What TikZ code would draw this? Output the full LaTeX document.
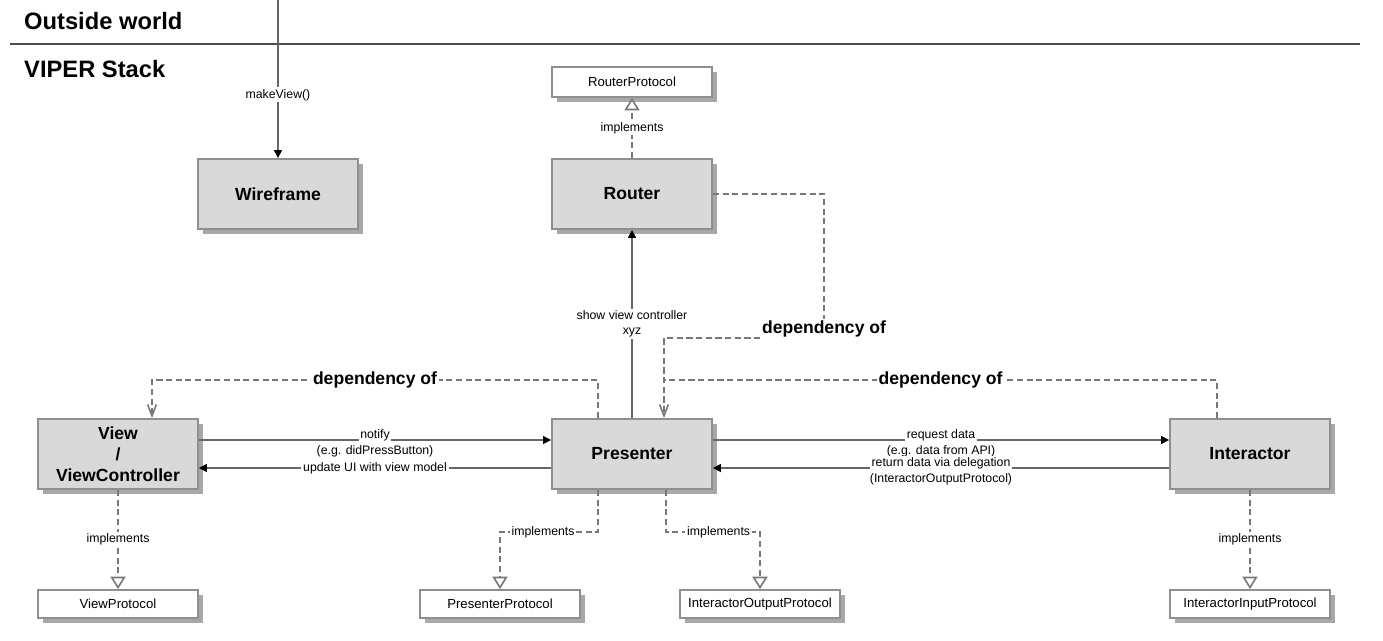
\documentclass[tikz,border=0pt]{standalone}
\usepackage{fontspec}
\setmainfont{Liberation Sans}
\usetikzlibrary{arrows.meta, positioning, calc, shadows}
\definecolor{boxfill}{HTML}{D9D9D9}
\definecolor{boxline}{HTML}{8F8F8F}
\definecolor{shade}{HTML}{A8A8A8}
\definecolor{wire}{HTML}{666666}
\definecolor{dashc}{HTML}{777777}
\tikzset{
    module/.style={draw=boxline, line width=1.1pt, fill=boxfill, minimum width=3.2cm, minimum height=1.4cm,
        align=center, font=\fontsize{10}{12}\selectfont\bfseries,
        drop shadow={shadow xshift=0.1cm, shadow yshift=-0.1cm, fill=shade, opacity=1}},
    protocol/.style={draw=boxline, line width=1.1pt, fill=white, minimum width=3.2cm, minimum height=0.56cm,
        font=\fontsize{7.5}{9}\selectfont,
        drop shadow={shadow xshift=0.1cm, shadow yshift=-0.1cm, fill=shade, opacity=1}}
}

\begin{document}
\begin{tikzpicture}[
    x=0.02cm, y=-0.02cm,
    flow/.style={draw=wire, line width=0.9pt, -{Triangle[length=4.5pt, width=4.5pt, black]}},
    dep/.style={draw=dashc, line width=0.9pt, dash pattern=on 3.5pt off 2pt},
    impl/.style={dep, -{Triangle[open, length=7pt, width=8.5pt, fill=white]}},
    barb/.style={-{Straight Barb[length=6.5pt, width=5pt]}},
    lbl/.style={font=\fontsize{7}{8.5}\selectfont, inner sep=1pt, align=center},
    deplbl/.style={font=\fontsize{10}{12}\selectfont\bfseries, fill=white, inner sep=1pt},
    title/.style={font=\fontsize{13.5}{16}\selectfont\bfseries, anchor=west}
]
\useasboundingbox (0,0) rectangle (1383,640);

% Headers
\node[title] (outside) at (18,21) {Outside world};
\draw[black!70, line width=1.2pt] (10,44) -- (1360,44);
\node[title] (stack) at (18,69) {VIPER Stack};

% Modules
\node[module] (wireframe) at (278,194) {Wireframe};
\node[module] (router) at (632,194) {Router};
\node[module] (view) at (118,454) {View\\/\\ViewController};
\node[module] (presenter) at (632,454) {Presenter};
\node[module] (interactor) at (1250,454) {Interactor};

% Protocols
\node[protocol, minimum height=0.6cm] (routerproto) at (632,82) {RouterProtocol};
\node[protocol] (viewproto) at (118,604) {ViewProtocol};
\node[protocol] (presenterproto) at (500,604) {PresenterProtocol};
\node[protocol] (outputproto) at (760,604) {InteractorOutputProtocol};
\node[protocol] (inputproto) at (1250,604) {InteractorInputProtocol};

% Entry from outside
\coordinate (entry) at (wireframe.north |- 0,0);
\draw[flow] (entry) -- node[lbl, fill=white, pos=0.6] {makeView()} (wireframe.north);

% Implements
\draw[impl] (router.north) -- node[lbl, fill=white] {implements} (routerproto.south);
\draw[impl] (view.south) -- node[lbl, fill=white] {implements} (viewproto.north);
\draw[impl] (interactor.south) -- node[lbl, fill=white] {implements} (inputproto.north);
\draw[impl] ($(presenter.south)+(-34,0)$) |- node[lbl, fill=white, pos=0.78] {implements}
    ($(presenterproto.north)+(0,-57)$) -- (presenterproto.north);
\draw[impl] ($(presenter.south)+(34,0)$) |- node[lbl, fill=white, pos=0.78] {implements}
    ($(outputproto.north)+(0,-57)$) -- (outputproto.north);

% Presenter <-> Router
\draw[flow] (presenter.north) -- node[lbl, fill=white] {show view controller\\xyz} (router.south);

% View <-> Presenter
\draw[flow] ($(view.east)+(0,-14)$) -- node[lbl, fill=white, yshift=0.1cm] (notifylbl) {notify}
    ($(presenter.west)+(0,-14)$);
\node[lbl, below=0pt of notifylbl] (notifynote) {(e.g. didPressButton)};
\draw[flow] ($(presenter.west)+(0,14)$) -- node[lbl, fill=white] {update UI with view model}
    ($(view.east)+(0,14)$);

% Presenter <-> Interactor
\draw[flow] ($(presenter.east)+(0,-14)$) -- node[lbl, fill=white, yshift=0.1cm] (requestlbl) {request data}
    ($(interactor.west)+(0,-14)$);
\node[lbl, below=0pt of requestlbl] (requestnote) {(e.g. data from API)};
\draw[flow] ($(interactor.west)+(0,14)$) -- node[lbl, fill=white, yshift=0.1cm] (returnlbl) {return data via delegation}
    ($(presenter.east)+(0,14)$);
\node[lbl, below=0pt of returnlbl] (returnnote) {(InteractorOutputProtocol)};

% Dependencies
\coordinate (depturn) at (824,338);
\coordinate (presdep) at ($(presenter.north)+(32,0)$);
\draw[dep, barb] (router.east) -| (depturn) -- (presdep |- depturn) -- (presdep);
\node[deplbl] (routerdep) at ($(depturn)+(0,-9)$) {dependency of};
\draw[dep] ($(interactor.north)+(-33,0)$) |- node[deplbl, pos=0.75] (interactordep) {dependency of}
    ($(presdep)+(0,-38)$);
\draw[dep, barb] ($(presenter.north)+(-34,0)$) |- node[deplbl, pos=0.75] (viewdep) {dependency of}
    ($(view.north)+(34,-38)$) -- ($(view.north)+(34,0)$);

\end{tikzpicture}
\end{document}
